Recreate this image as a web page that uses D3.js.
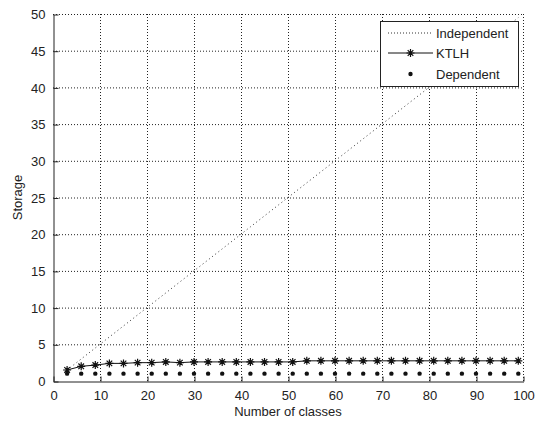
<!DOCTYPE html>
<html lang="en">
<head>
    <meta charset="UTF-8">
    <title>Storage vs number of classes</title>
    <script src="https://d3js.org/d3.v7.min.js"></script>
    <style>
        body { margin: 0; background: #fff; }
        text { font-family: "Liberation Sans", Arial, sans-serif; fill: #222; }
        .tick text { font-size: 13px; }
        .grid line { stroke: #222; stroke-dasharray: 1,2; stroke-width: 1; }
    </style>
</head>
<body>
    <svg id="chart" width="535" height="425"></svg>
    <script>
        // data
        const classes = d3.range(3, 100, 3);
        const independent = classes.map(c => c / 2);
        const ktlh = [1.5, 2.0, 2.17, 2.4, 2.4, 2.5, 2.5, 2.6, 2.5, 2.6, 2.6,
            2.6, 2.6, 2.6, 2.6, 2.6, 2.6, 2.75, 2.75, 2.75, 2.75, 2.75, 2.75,
            2.75, 2.75, 2.75, 2.75, 2.75, 2.75, 2.75, 2.75, 2.75, 2.75];
        const dependent = classes.map(() => 1);
        const xTicks = d3.range(0, 101, 10);
        const yTicks = d3.range(0, 51, 5);
        const seriesNames = ["Independent", "KTLH", "Dependent"];

        const margin = { top: 14, right: 12, bottom: 44, left: 53 };
        const width = 535, height = 425;
        const svg = d3.select("#chart");

        const x = d3.scaleLinear().domain([0, 100]).range([margin.left, width - margin.right]);
        const y = d3.scaleLinear().domain([0, 50]).range([height - margin.bottom, margin.top]);

        // grid
        const grid = svg.append("g").attr("class", "grid");
        grid.selectAll(".gx").data(xTicks.slice(1)).enter().append("line")
            .attr("x1", d => x(d) + 0.5).attr("x2", d => x(d) + 0.5)
            .attr("y1", y(0)).attr("y2", y(50));
        grid.selectAll(".gy").data(yTicks.slice(1)).enter().append("line")
            .attr("y1", d => y(d) + 0.5).attr("y2", d => y(d) + 0.5)
            .attr("x1", x(0)).attr("x2", x(100));

        // axes (ticks inward)
        const xAxis = svg.append("g")
            .attr("transform", `translate(0.5,${y(0) + 0.5})`)
            .call(d3.axisBottom(x).tickValues(xTicks).tickSize(-5).tickPadding(9).tickSizeOuter(0));
        const yAxis = svg.append("g")
            .attr("transform", `translate(${x(0) + 0.5},0.5)`)
            .call(d3.axisLeft(y).tickValues(yTicks).tickSize(-5).tickPadding(8).tickSizeOuter(0));
        [xAxis, yAxis].forEach(a => {
            a.select(".domain").attr("stroke", "#222");
            a.selectAll(".tick line").attr("stroke", "#222");
        });

        // independent: dotted line
        svg.append("path")
            .datum(classes.map((c, i) => [c, independent[i]]))
            .attr("fill", "none").attr("stroke", "#333").attr("stroke-width", 1)
            .attr("stroke-dasharray", "1,3")
            .attr("d", d3.line().x(d => x(d[0])).y(d => y(d[1])));

        // KTLH: solid line with asterisks
        const ktlhPts = classes.map((c, i) => [c, ktlh[i]]);
        svg.append("path")
            .datum(ktlhPts)
            .attr("fill", "none").attr("stroke", "#111").attr("stroke-width", 1)
            .attr("d", d3.line().x(d => x(d[0])).y(d => y(d[1])));

        function asterisk(g, cx, cy) {
            const r = 4;
            g.append("path")
                .attr("d", `M${cx - r},${cy}H${cx + r}M${cx},${cy - r}V${cy + r}` +
                    `M${cx - r * 0.7},${cy - r * 0.7}L${cx + r * 0.7},${cy + r * 0.7}` +
                    `M${cx - r * 0.7},${cy + r * 0.7}L${cx + r * 0.7},${cy - r * 0.7}`)
                .attr("stroke", "#111").attr("stroke-width", 1.2).attr("fill", "none");
        }
        const ktlhG = svg.append("g");
        ktlhPts.forEach(d => asterisk(ktlhG, x(d[0]), y(d[1])));

        // dependent: dots
        svg.append("g").selectAll("circle")
            .data(classes.map((c, i) => [c, dependent[i]]))
            .enter().append("circle")
            .attr("cx", d => x(d[0])).attr("cy", d => y(d[1]))
            .attr("r", 2.2).attr("fill", "#111");

        // axis labels
        svg.append("text")
            .attr("x", (x(0) + x(100)) / 2).attr("y", 416)
            .attr("text-anchor", "middle").attr("font-size", "13px")
            .text("Number of classes");
        svg.append("text")
            .attr("transform", `translate(22,${(y(0) + y(50)) / 2}) rotate(-90)`)
            .attr("text-anchor", "middle").attr("font-size", "13px")
            .text("Storage");

        // legend
        const lg = svg.append("g");
        lg.append("rect")
            .attr("x", 380.5).attr("y", 21.5).attr("width", 138).attr("height", 65)
            .attr("fill", "#fff").attr("stroke", "#222");
        const rows = [33, 53, 74];
        lg.append("line").attr("x1", 388).attr("x2", 433).attr("y1", rows[0]).attr("y2", rows[0])
            .attr("stroke", "#333").attr("stroke-dasharray", "1,2");
        lg.append("line").attr("x1", 388).attr("x2", 433).attr("y1", rows[1]).attr("y2", rows[1])
            .attr("stroke", "#111");
        asterisk(lg, 410.5, rows[1]);
        lg.append("circle").attr("cx", 410.5).attr("cy", rows[2]).attr("r", 2.2).attr("fill", "#111");
        lg.selectAll(".lt").data(seriesNames).enter().append("text")
            .attr("x", 436).attr("y", (d, i) => rows[i]).attr("dy", "0.35em")
            .attr("font-size", "13px").text(d => d);
    </script>
</body>
</html>
